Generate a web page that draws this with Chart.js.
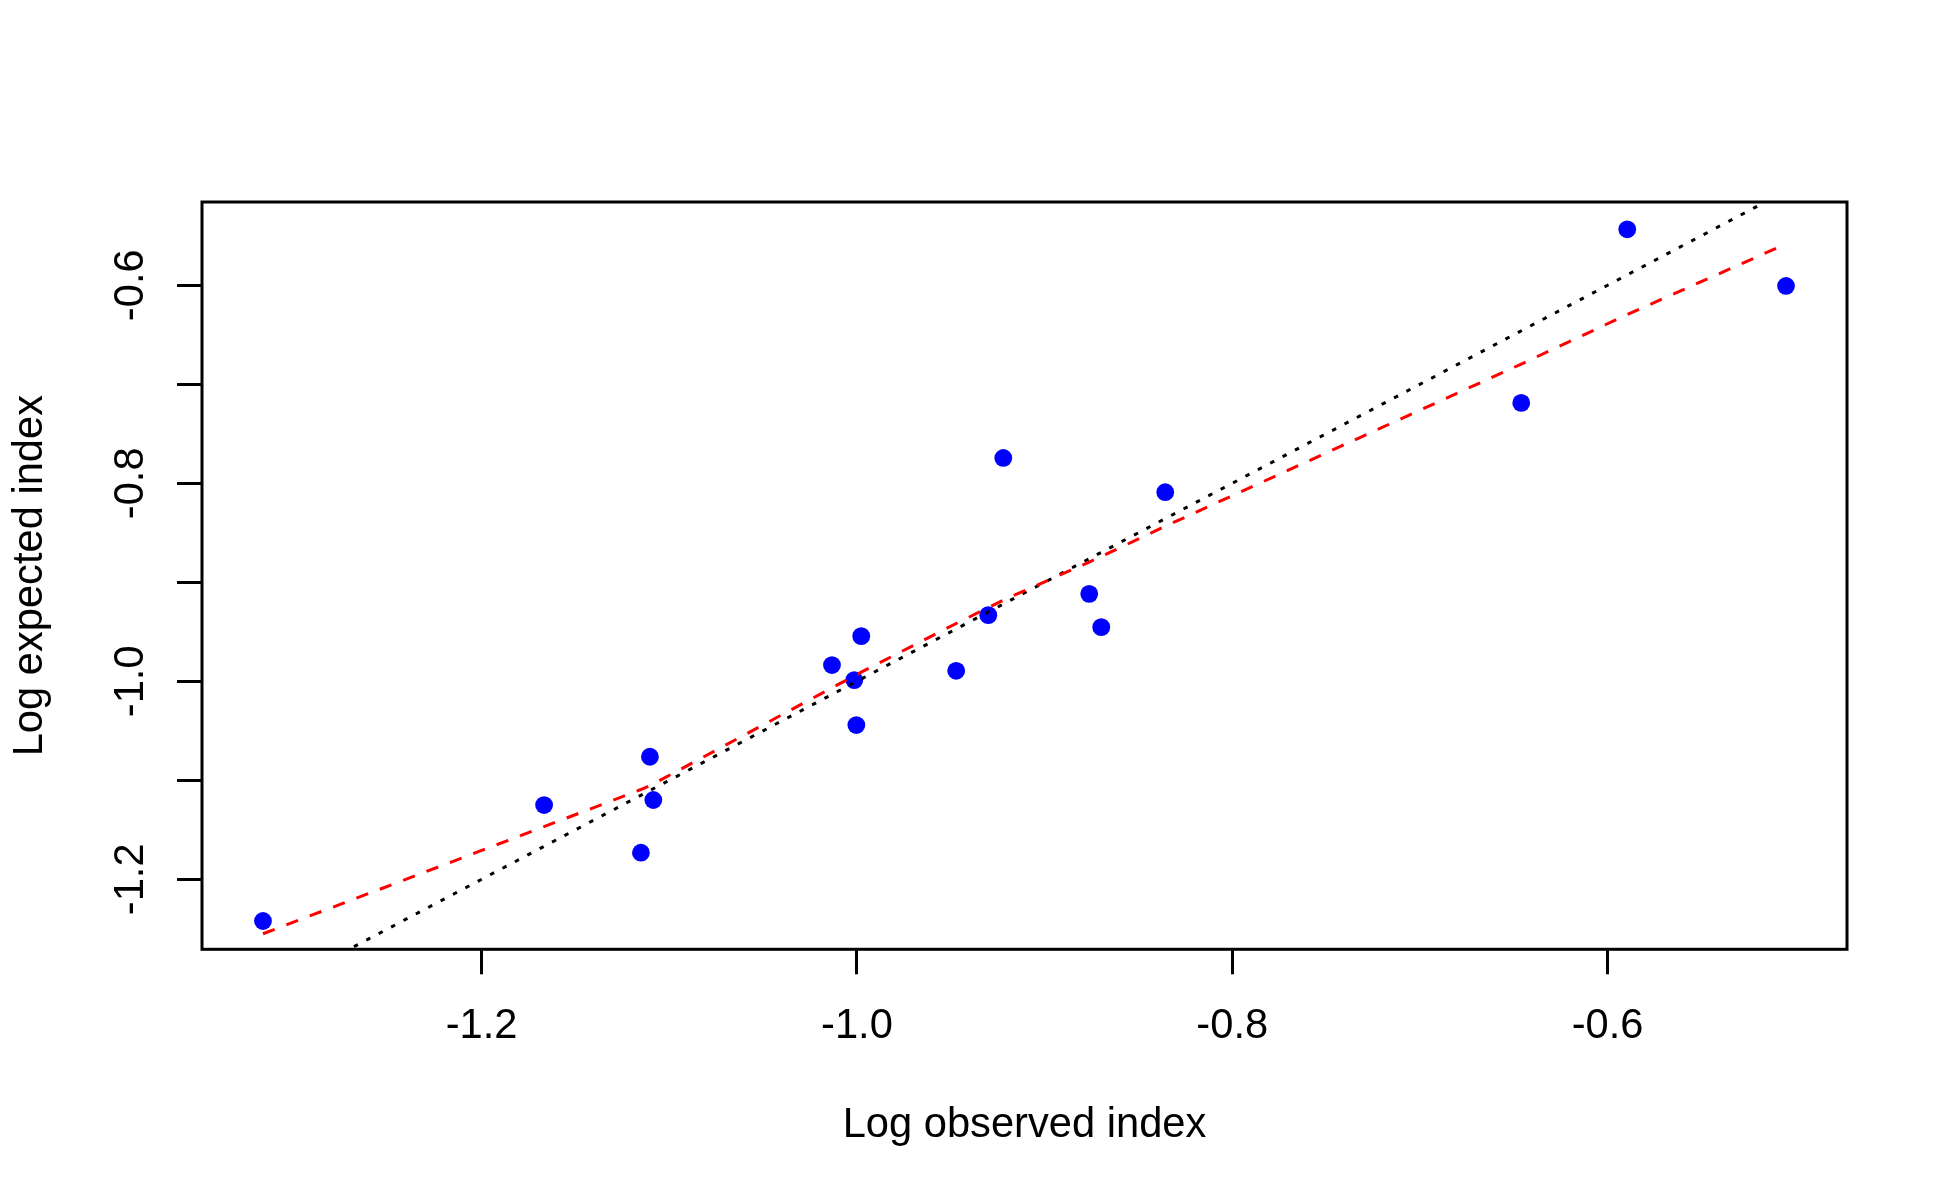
<!DOCTYPE html>
<html>
<head>
<meta charset="utf-8">
<script src="https://cdn.jsdelivr.net/npm/chart.js@4"></script>
<style>
  html, body { margin: 0; padding: 0; background: #fff; }
  canvas { display: block; }
</style>
</head>
<body>
<canvas id="plot" width="1950" height="1200"></canvas>
<script>
// observed vs expected (log) index
const obsX = [-1.3165, -1.1667, -1.1103, -1.1085, -1.1151, -1.0133, -1.0014, -0.9977, -1.0003,
  -0.9471, -0.9300, -0.9220, -0.8762, -0.8698, -0.8357, -0.6460, -0.5895, -0.5049];
const expY = [-1.2421, -1.1250, -1.0762, -1.1199, -1.1731, -0.9836, -0.9988, -0.9544, -1.0442,
  -0.9894, -0.9332, -0.7744, -0.9117, -0.9453, -0.8090, -0.7188, -0.5435, -0.6007];

// lowess smooth (red dashed)
const smoothX = [-1.3165, -1.1667, -1.1151, -1.1103, -1.1085, -1.0133, -1.0014, -1.0003, -0.9977,
  -0.9471, -0.9300, -0.9220, -0.8762, -0.8698, -0.8357, -0.6460, -0.5895, -0.5049];
const smoothY = [-1.2550, -1.1468, -1.1093, -1.1054, -1.1037, -1.0066, -0.9946, -0.9935, -0.9908,
  -0.9416, -0.9256, -0.9180, -0.8796, -0.8740, -0.8434, -0.6796, -0.6296, -0.5582];

// 1:1 line (black dotted)
const refX = [-1.4, -0.4];
const refY = [-1.4, -0.4];

const xTicks = [-1.2, -1.0, -0.8, -0.6];
const yTicks = [-1.2, -1.1, -1.0, -0.9, -0.8, -0.7, -0.6];
const yLabels = [-1.2, -1.0, -0.8, -0.6];

const xRange = [-1.349, -0.4724];
const yRange = [-1.2707, -0.5159];

const FONT = '"Liberation Sans", Arial, sans-serif';
const FSIZE = 41.67;
Chart.defaults.font.family = FONT;
Chart.defaults.font.size = FSIZE;
Chart.defaults.color = "#000";

function pairs(xs, ys) {
  return xs.map((x, i) => ({ x: x, y: ys[i] }));
}

const frame = {
  id: "frame",
  beforeDraw(chart) {
    const ctx = chart.ctx;
    ctx.save();
    ctx.fillStyle = "#fff";
    ctx.fillRect(0, 0, chart.width, chart.height);
    ctx.restore();
  },
  afterDraw(chart) {
    const ctx = chart.ctx;
    const a = chart.chartArea;
    ctx.save();
    ctx.strokeStyle = "#000";
    ctx.lineWidth = 3;
    ctx.strokeRect(a.left, a.top, a.right - a.left, a.bottom - a.top);
    // rotated y tick labels like R
    const ys = chart.scales.y;
    ctx.fillStyle = "#000";
    ctx.font = FSIZE + "px " + FONT;
    ctx.textAlign = "center";
    ctx.textBaseline = "alphabetic";
    yLabels.forEach((v) => {
      ctx.save();
      ctx.translate(143.3, ys.getPixelForValue(v));
      ctx.rotate(-Math.PI / 2);
      ctx.fillText(v.toFixed(1), 0, 0);
      ctx.restore();
    });
    ctx.restore();
  },
};

new Chart(document.getElementById("plot"), {
  type: "scatter",
  data: {
    datasets: [
      {
        data: pairs(smoothX, smoothY),
        showLine: true,
        borderColor: "#ff0000",
        borderWidth: 3,
        borderDash: [12.5, 12.5],
        pointRadius: 0,
        tension: 0,
      },
      {
        data: pairs(refX, refY),
        showLine: true,
        borderColor: "#000",
        borderWidth: 3,
        borderDash: [4.5, 9.5],
        pointRadius: 0,
      },
      {
        data: pairs(obsX, expY),
        pointRadius: 8.9,
        pointBackgroundColor: "#0000ff",
        pointBorderWidth: 0,
        showLine: false,
      },
    ],
  },
  options: {
    responsive: false,
    devicePixelRatio: 1,
    animation: false,
    events: [],
    layout: { padding: { top: 202, right: 103, bottom: 0, left: 0 } },
    plugins: {
      legend: { display: false },
      tooltip: { enabled: false },
    },
    scales: {
      x: {
        type: "linear",
        position: "bottom",
        min: xRange[0],
        max: xRange[1],
        afterBuildTicks: (s) => { s.ticks = xTicks.map((v) => ({ value: v })); },
        afterFit: (s) => { s.height = 250.7; },
        ticks: {
          padding: 27,
          maxRotation: 0,
          autoSkip: false,
          callback: (v) => v.toFixed(1),
        },
        grid: {
          drawOnChartArea: false,
          tickLength: 25,
          tickWidth: 3,
          color: "#000",
        },
        border: { display: false },
        title: {
          display: true,
          text: "Log observed index",
          padding: { top: 0, bottom: 49 },
        },
      },
      y: {
        type: "linear",
        position: "left",
        min: yRange[0],
        max: yRange[1],
        afterBuildTicks: (s) => { s.ticks = yTicks.map((v) => ({ value: v })); },
        afterFit: (s) => { s.width = 202; },
        ticks: {
          autoSkip: false,
          callback: () => "",
        },
        grid: {
          drawOnChartArea: false,
          tickLength: 25,
          tickWidth: 3,
          color: "#000",
        },
        border: { display: false },
        title: {
          display: true,
          text: "Log expected index",
          padding: { top: 5.6, bottom: 0 },
        },
      },
    },
  },
  plugins: [frame],
});
</script>
</body>
</html>
